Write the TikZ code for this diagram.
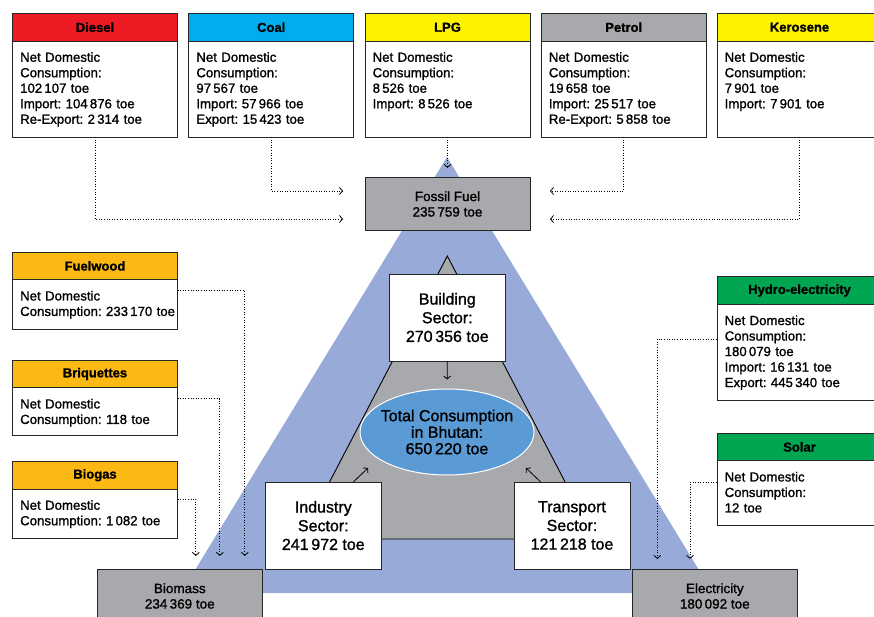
\documentclass[tikz,border=0pt]{standalone}
\usepackage{fontspec}
\setmainfont{Liberation Sans}[FakeBold=1.2]
\usetikzlibrary{shapes.geometric, arrows.meta, positioning}
\definecolor{dieselred}{RGB}{237,28,36}
\definecolor{coalblue}{RGB}{0,174,239}
\definecolor{lpgyellow}{RGB}{255,242,0}
\definecolor{boxgray}{RGB}{167,169,172}
\definecolor{woodorange}{RGB}{253,185,19}
\definecolor{hydrogreen}{RGB}{0,166,81}
\definecolor{triblue}{RGB}{152,170,216}
\definecolor{ellblue}{RGB}{91,155,213}
\frenchspacing

\begin{document}
\begin{tikzpicture}[x=1pt, y=-1pt,
    head/.style={draw=black!85, line width=0.9pt, outer sep=0pt, inner sep=0pt,
        minimum width=165pt, minimum height=27.5pt, font=\fontsize{13}{15}\selectfont\bfseries},
    body/.style={draw=black!85, fill=white, line width=0.9pt, outer sep=0pt, inner sep=0pt,
        minimum width=165pt},
    info/.style={anchor=north west, align=left, text width=160pt, inner xsep=7.5pt,
        inner ysep=11pt, font=\fontsize{13.2}{15.5}\selectfont},
    sink/.style={draw=black!85, fill=boxgray, line width=0.9pt, outer sep=0pt,
        minimum width=165pt, minimum height=52.3pt, align=center,
        font=\fontsize{13.5}{15.5}\selectfont},
    sector/.style={draw=black!85, fill=white, line width=0.9pt, outer sep=0pt,
        minimum width=116pt, minimum height=87pt, align=center,
        font=\fontsize{16}{18.7}\selectfont},
    feed/.style={line width=0.8pt, dash pattern=on 1pt off 1.6pt,
        -{Straight Barb[length=3pt,width=7pt]}},
    flow/.style={line width=0.8pt, -{Straight Barb[length=3pt,width=7pt]}}]
    % Page
    \fill[white] (0,0) rectangle (874,617);
    \clip (0,0) rectangle (874,617);
    % Outer and inner triangles
    \fill[triblue] (447,157) -- (713,593) -- (181,593) -- cycle;
    \filldraw[fill=boxgray, draw=black, line width=0.9pt] (447.3,256) -- (594.8,539) -- (299.8,539) -- cycle;
    % Fossil fuel sources
    \node[body, minimum height=96pt, label={[info]north west:{Net Domestic\\Consumption:\\102\,107 toe\\Import: 104\,876 toe\\Re-Export: 2\,314 toe}}] (diesel) at (95,89) {};
    \node[head, fill=dieselred, above=0pt of diesel] (diesel-h) {Diesel};
    \node[body, minimum height=96pt, label={[info]north west:{Net Domestic\\Consumption:\\97\,567 toe\\Import: 57\,966 toe\\Export: 15\,423 toe}}] (coal) at (271.2,89) {};
    \node[head, fill=coalblue, above=0pt of coal] (coal-h) {Coal};
    \node[body, minimum height=96pt, label={[info]north west:{Net Domestic\\Consumption:\\8\,526 toe\\Import: 8\,526 toe}}] (lpg) at (447.5,89) {};
    \node[head, fill=lpgyellow, above=0pt of lpg] (lpg-h) {LPG};
    \node[body, minimum height=96pt, label={[info]north west:{Net Domestic\\Consumption:\\19\,658 toe\\Import: 25\,517 toe\\Re-Export: 5\,858 toe}}] (petrol) at (623.7,89) {};
    \node[head, fill=boxgray, above=0pt of petrol] (petrol-h) {Petrol};
    \node[body, minimum height=96pt, label={[info]north west:{Net Domestic\\Consumption:\\7\,901 toe\\Import: 7\,901 toe}}] (kerosene) at (799.5,89) {};
    \node[head, fill=lpgyellow, above=0pt of kerosene] (kerosene-h) {Kerosene};
    % Biomass sources
    \node[body, minimum height=49.6pt, label={[info]north west:{Net Domestic\\Consumption: 233\,170 toe}}] (fuelwood) at (95,304.5) {};
    \node[head, fill=woodorange, above=0pt of fuelwood] (fuelwood-h) {Fuelwood};
    \node[body, minimum height=47.3pt, label={[info]north west:{Net Domestic\\Consumption: 118 toe}}] (briquettes) at (95,411.35) {};
    \node[head, fill=woodorange, above=0pt of briquettes] (briquettes-h) {Briquettes};
    \node[body, minimum height=49.3pt, label={[info]north west:{Net Domestic\\Consumption: 1\,082 toe}}] (biogas) at (95,513.65) {};
    \node[head, fill=woodorange, above=0pt of biogas] (biogas-h) {Biogas};
    % Electricity sources
    \node[body, minimum height=96.4pt, label={[info]north west:{Net Domestic\\Consumption:\\180\,079 toe\\Import: 16\,131 toe\\Export: 445\,340 toe}}] (hydro) at (799.5,352.5) {};
    \node[head, fill=hydrogreen, above=0pt of hydro] (hydro-h) {Hydro-electricity};
    \node[body, minimum height=64.3pt, label={[info]north west:{Net Domestic\\Consumption:\\12 toe}}] (solar) at (799.5,492.85) {};
    \node[head, fill=hydrogreen, above=0pt of solar] (solar-h) {Solar};
    % Totals per carrier
    \node[sink] (fossil) at (447.5,204) {Fossil Fuel\\235\,759 toe};
    \node[sink] (biomass) at (179.8,596) {Biomass\\234\,369 toe};
    \node[sink] (electricity) at (714.8,596) {Electricity\\180\,092 toe};
    % Sectors and total
    \node[sector] (building) at (447.3,317.5) {Building\\Sector:\\270\,356 toe};
    \node[sector] (industry) at (323.3,525.5) {Industry\\Sector:\\241\,972 toe};
    \node[sector] (transport) at (572,525.5) {Transport\\Sector:\\121\,218 toe};
    \node[ellipse, draw=white, line width=1pt, fill=ellblue, minimum width=174pt, minimum height=86pt,
        inner sep=0pt, label={[align=center, font=\fontsize{16}{16.5}\selectfont]center:{Total Consumption\\in Bhutan:\\650\,220 toe}}] (total) at (447,432) {};
    \coordinate (industry-tip) at (368,468);
    \coordinate (transport-tip) at (526,468);
    % Dotted feeds
    \draw[feed, shorten >=22pt] (diesel.south) |- ([yshift=-15pt]fossil.west);
    \draw[feed, shorten >=22pt] (coal.south) |- ([yshift=13pt]fossil.west);
    \draw[feed, shorten >=10pt] (lpg.south) -- (fossil.north);
    \draw[feed, shorten >=20pt] (petrol.south) |- ([yshift=13pt]fossil.east);
    \draw[feed, shorten >=20pt] (kerosene.south) |- ([yshift=-15pt]fossil.east);
    \draw[feed, shorten >=14pt] ([yshift=-11pt]fuelwood.north east) -| ([xshift=65pt]biomass.north);
    \draw[feed, shorten >=14pt] ([yshift=-11pt]briquettes.north east) -| ([xshift=40pt]biomass.north);
    \draw[feed, shorten >=14pt] ([yshift=-10pt]biogas.north east) -| ([xshift=16pt]biomass.north);
    \draw[feed, shorten >=11pt] ([yshift=-34.7pt]hydro.north west) -| ([xshift=-57.5pt]electricity.north);
    \draw[feed, shorten >=11pt] ([yshift=-21.6pt]solar.north west) -| ([xshift=-24.8pt]electricity.north);
    % Sector flows
    \draw[flow, shorten >=9pt] (building) -- (total);
    \draw[flow] ([xshift=-28pt]industry.north east) -- (industry-tip);
    \draw[flow] ([xshift=26.7pt]transport.north west) -- (transport-tip);
\end{tikzpicture}
\end{document}
